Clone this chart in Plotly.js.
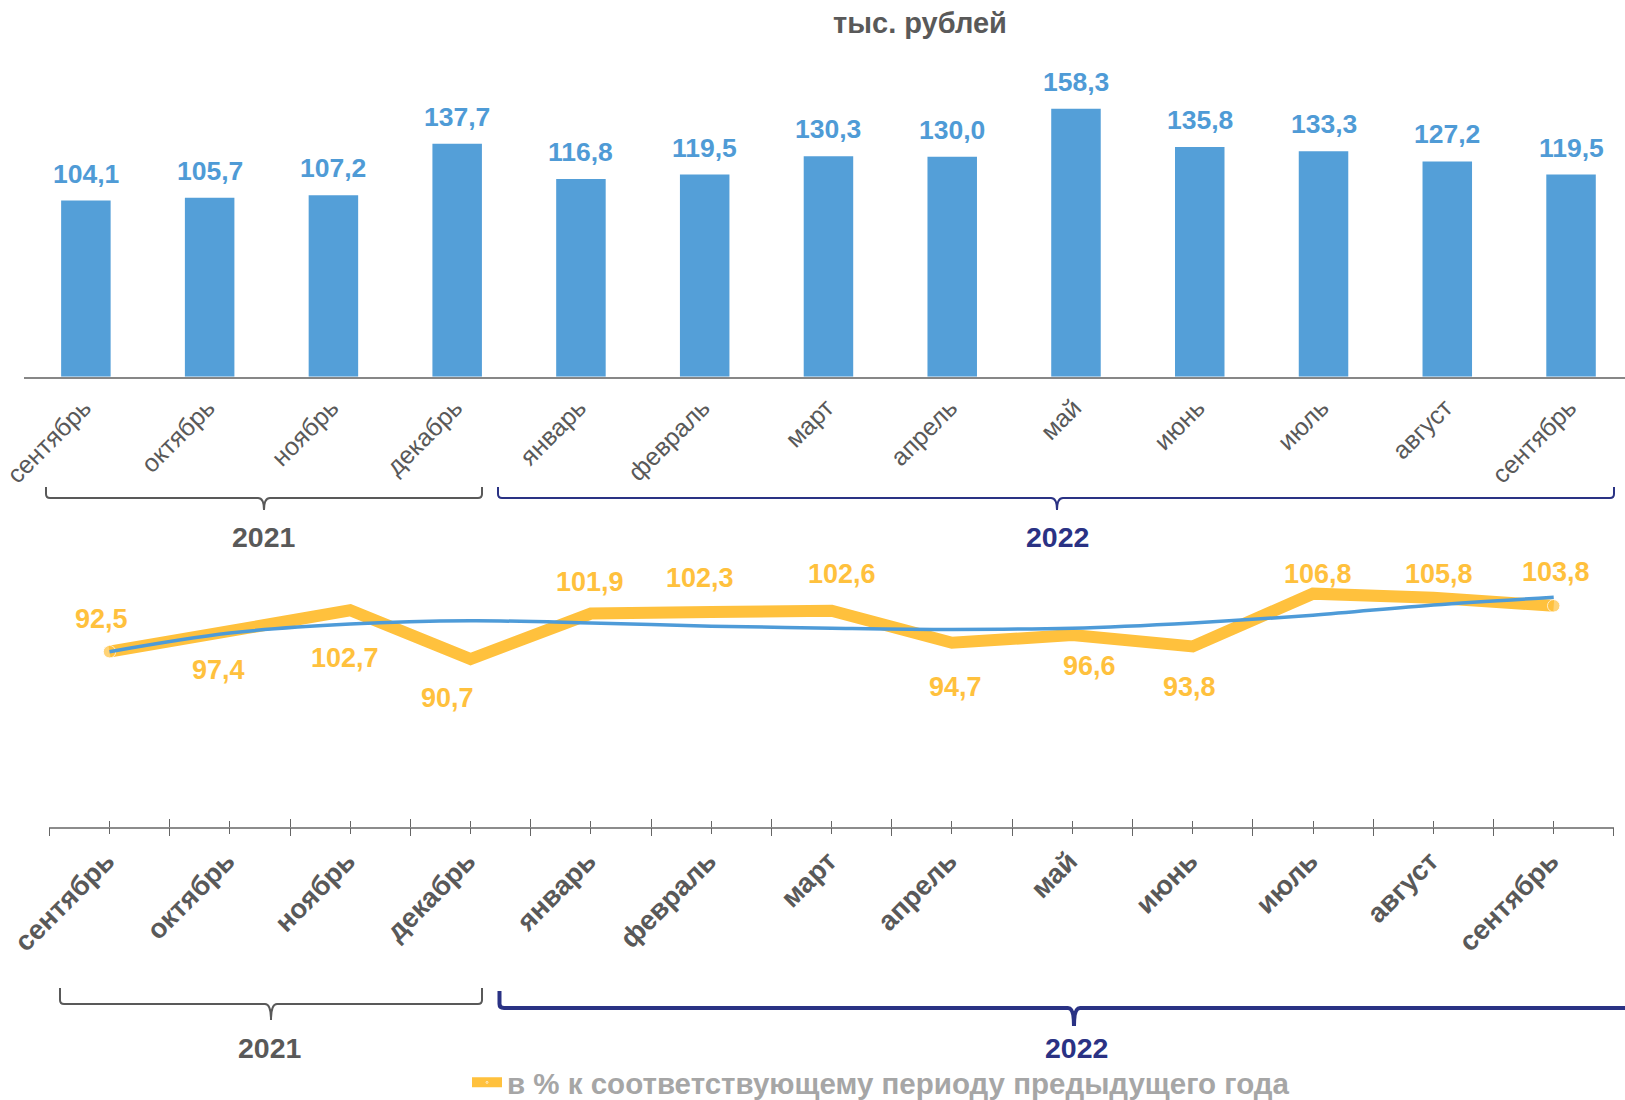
<!DOCTYPE html>
<html>
<head>
<meta charset="utf-8">
<script src="https://cdn.plot.ly/plotly-3.0.1.min.js"></script>
<style>html,body{margin:0;padding:0;background:#fff;} #chart{width:1625px;height:1100px;}</style>
</head>
<body>
<div id="chart"></div>
<script>
// ---- data ----
const periods = ['2021-09','2021-10','2021-11','2021-12','2022-01','2022-02','2022-03','2022-04','2022-05','2022-06','2022-07','2022-08','2022-09'];
const months = ['сентябрь','октябрь','ноябрь','декабрь','январь','февраль','март','апрель','май','июнь','июль','август','сентябрь'];
const wages = [104.1,105.7,107.2,137.7,116.8,119.5,130.3,130.0,158.3,135.8,133.3,127.2,119.5];
const yoy = [92.5,97.4,102.7,90.7,101.9,102.3,102.6,94.7,96.6,93.8,106.8,105.8,103.8];
const trend = [92.5,97.1,99.3,100.1,99.6,98.8,98.3,98.0,98.3,99.6,101.5,104.0,105.9];
const years = ['2021','2022'];
const unitTitle = 'тыс. рублей';
const legendName = 'в % к соответствующему периоду предыдущего года';

// ---- style / positions ----
const W = 1625, H = 1100;
const FONT = 'Liberation Sans, Arial, sans-serif';
const GRAY = '#595959', NAVY = '#2A3284', BLUE = '#549FD8', BLUE_TXT = '#4F9BD6', YEL = '#FFC13D';
const yoyShift = [[-8,-33],[-11,38],[-5,48],[-23,39],[-1,-32],[-11,-34],[10,-37],[4,44],[17,31],[-3,41],[5,-20],[6,-24],[2,-34]];
const fmt = v => v.toFixed(1).replace('.', ',');
const px = (x, y) => (x / W).toFixed(5) + ',' + (1 - y / H).toFixed(5);

const traces = [
  {type:'bar', x: periods, y: wages, xaxis:'x', yaxis:'y', marker:{color: BLUE}, width:0.4, showlegend:false, hoverinfo:'skip'},
  {type:'scatter', mode:'lines+markers', x: periods, y: yoy, xaxis:'x2', yaxis:'y2', name: legendName,
   line:{color: YEL, width: 12}, marker:{color: YEL, size: periods.map((p,i)=> (i===0||i===periods.length-1)?12.5:0)}, showlegend:true},
  {type:'scatter', mode:'lines', x: periods, y: trend, xaxis:'x2', yaxis:'y2', line:{color:'#4E9BD8', width:3.5, shape:'spline', smoothing:1}, showlegend:false},
  // empty helper traces so the overlay tick axes (crossing ticks) are drawn
  {type:'scatter', mode:'lines', x: [], y: [], xaxis:'x3', yaxis:'y2', showlegend:false, hoverinfo:'skip'},
  {type:'scatter', mode:'lines', x: [], y: [], xaxis:'x4', yaxis:'y2', showlegend:false, hoverinfo:'skip'}
];

const annotations = [];
periods.forEach((p, i) => {
  annotations.push({xref:'x', yref:'y', x:p, y:wages[i], text: fmt(wages[i]), showarrow:false, xanchor:'center', yanchor:'middle', yshift:27,
    font:{family:FONT, size:26.5, color:BLUE_TXT, weight:'bold'}});
  annotations.push({xref:'x2', yref:'y2', x:p, y:yoy[i], text: fmt(yoy[i]), showarrow:false, xanchor:'center', yanchor:'middle',
    xshift: yoyShift[i][0], yshift: -yoyShift[i][1], font:{family:FONT, size:27, color:YEL, weight:'bold'}});
});
const yearLbl = [[264,537,GRAY,years[0]],[1057,537,NAVY,years[1]],[270,1048,GRAY,years[0]],[1076,1048,NAVY,years[1]]];
yearLbl.forEach(a => annotations.push({xref:'paper', yref:'paper', x:a[0]/W, y:1-a[1]/H, text:a[3], showarrow:false, xanchor:'center', yanchor:'middle',
  font:{family:FONT, size:28.5, color:a[2], weight:'bold'}}));

const shapes = [
  {type:'path', xref:'paper', yref:'paper', line:{color:GRAY, width:2},
   path:`M${px(46,487)} L${px(46,494)} Q${px(46,498)} ${px(50,498)} L${px(258,498)} Q${px(264,498)} ${px(264,510)} Q${px(264,498)} ${px(270,498)} L${px(478,498)} Q${px(482,498)} ${px(482,494)} L${px(482,487)}`},
  {type:'path', xref:'paper', yref:'paper', line:{color:NAVY, width:2},
   path:`M${px(498,487)} L${px(498,494)} Q${px(498,498)} ${px(502,498)} L${px(1051,498)} Q${px(1057,498)} ${px(1057,510)} Q${px(1057,498)} ${px(1063,498)} L${px(1610,498)} Q${px(1614,498)} ${px(1614,494)} L${px(1614,487)}`},
  {type:'path', xref:'paper', yref:'paper', line:{color:GRAY, width:2},
   path:`M${px(60,988)} L${px(60,1000)} Q${px(60,1004)} ${px(64,1004)} L${px(265,1004)} Q${px(271,1004)} ${px(271,1020)} Q${px(271,1004)} ${px(277,1004)} L${px(478,1004)} Q${px(482,1004)} ${px(482,1000)} L${px(482,988)}`},
  {type:'path', xref:'paper', yref:'paper', line:{color:NAVY, width:4},
   path:`M${px(499.5,991)} L${px(499.5,1004)} Q${px(499.5,1008)} ${px(504,1008)} L${px(1068,1008)} Q${px(1074,1008)} ${px(1074,1026)} Q${px(1074,1008)} ${px(1080,1008)} L${px(1625,1008)}`}
];

const bounds = periods.map((p,i)=> i-0.5).concat([periods.length-0.5]);
const centers = periods.map((p,i)=> i);

const tickAxis = (side) => ({type:'linear', overlaying:'x2', anchor:'y2', range:[-0.5, 12.5], tickmode:'array', tickvals:bounds, ticks:side, ticklen:8, tickwidth:1, tickcolor:'#666666',
    showticklabels:false, showline:false, showgrid:false, zeroline:false,
    minor:{tickmode:'array', tickvals:centers, ticks:side, ticklen:6, tickwidth:1, tickcolor:'#666666', showgrid:false}});

const layout = {
  width: W, height: H, margin:{l:0, r:0, t:0, b:0, autoexpand:false}, paper_bgcolor:'#fff', plot_bgcolor:'rgba(0,0,0,0)',
  font:{family:FONT, color:GRAY},
  title:{text: unitTitle, x: 920/W, xanchor:'center', y: 1-23/H, yanchor:'middle', font:{family:FONT, size:29, color:GRAY, weight:'bold'}},
  xaxis:{type:'category', domain:[24/W, 1], range:[-0.5, 12.436], anchor:'y', tickmode:'array', tickvals:periods, ticktext:months,
    tickangle:-45, tickfont:{family:FONT, size:25, color:GRAY}, ticklabelstandoff:4, ticklabelshift:-2, showline:true, linecolor:'#878787', linewidth:2.5, ticks:'', showgrid:false, zeroline:false},
  yaxis:{domain:[1-376.7/H, 1-40/H], range:[0, (376.7-40)/1.692], visible:false, showgrid:false, zeroline:false},
  xaxis2:{type:'category', domain:[49.3/W, 1613.9/W], range:[-0.5, 12.5], anchor:'y2', tickmode:'array', tickvals:periods, ticktext:months,
    tickangle:-45, tickfont:{family:FONT, size:27.5, color:GRAY, weight:'bold'}, ticklabelstandoff:5, ticklabelshift:-3, showline:true, linecolor:'#8c8c8c', linewidth:2, ticks:'', showgrid:false, zeroline:false},
  xaxis3: tickAxis('outside'),
  xaxis4: tickAxis('inside'),
  yaxis2:{domain:[1-827/H, 1-540/H], range:[102.7-(827-610.3)/4.06, 102.7+(610.3-540)/4.06], visible:false, showgrid:false, zeroline:false},
  showlegend:true,
  legend:{orientation:'h', x:467/W, xanchor:'left', y:1-1082.7/H, yanchor:'middle', bgcolor:'rgba(0,0,0,0)',
    font:{family:FONT, size:29.5, color:'#A6A6A6', weight:'bold'}},
  annotations: annotations,
  shapes: shapes,
  bargap: 0.6
};

Plotly.newPlot('chart', traces, layout, {displayModeBar:false, staticPlot:true});
</script>
</body>
</html>
